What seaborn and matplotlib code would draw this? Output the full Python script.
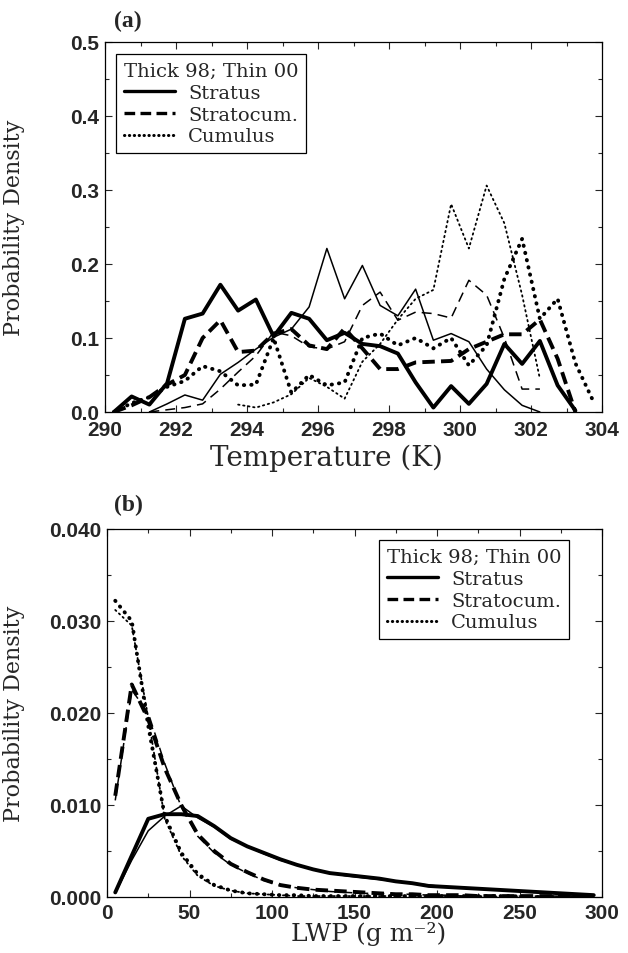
import numpy as np
import pandas as pd
import seaborn as sns
import matplotlib
matplotlib.use("Agg")
import matplotlib.pyplot as plt
from matplotlib.lines import Line2D
from matplotlib.ticker import MultipleLocator, FormatStrFormatter

# ---------------- data: panel (a) temperature PDFs ----------------
temp_stratus_98 = [290.25 + 0.5 * i for i in range(27)]
pdf_stratus_98 = [0.000, 0.021, 0.010, 0.039, 0.126, 0.133, 0.172, 0.137, 0.152, 0.102,
                  0.134, 0.126, 0.097, 0.107, 0.092, 0.089, 0.079, 0.040, 0.006, 0.035,
                  0.011, 0.038, 0.092, 0.065, 0.096, 0.036, 0.002]
temp_stratus_00 = [291.25 + 0.5 * i for i in range(23)]
pdf_stratus_00 = [0.000, 0.011, 0.023, 0.016, 0.051, 0.067, 0.085, 0.101, 0.112, 0.142,
                  0.221, 0.153, 0.198, 0.144, 0.130, 0.166, 0.097, 0.106, 0.095, 0.058,
                  0.030, 0.009, 0.000]
temp_stratocum_98 = [290.25 + 0.5 * i for i in range(27)]
pdf_stratocum_98 = [0.000, 0.009, 0.020, 0.037, 0.050, 0.100, 0.124, 0.081, 0.083, 0.106,
                    0.112, 0.090, 0.085, 0.113, 0.086, 0.058, 0.058, 0.067, 0.068, 0.069,
                    0.085, 0.095, 0.105, 0.105, 0.125, 0.072, 0.000]
temp_stratocum_00 = [291.25 + 0.5 * i for i in range(23)]
pdf_stratocum_00 = [0.000, 0.003, 0.006, 0.011, 0.031, 0.054, 0.076, 0.108, 0.103, 0.088,
                    0.085, 0.095, 0.144, 0.162, 0.124, 0.135, 0.133, 0.127, 0.178, 0.158,
                    0.100, 0.031, 0.031]
temp_cumulus_98 = [290.25 + 0.5 * i for i in range(28)]
pdf_cumulus_98 = [0.000, 0.012, 0.020, 0.034, 0.042, 0.062, 0.055, 0.036, 0.037, 0.100,
                  0.026, 0.050, 0.036, 0.040, 0.100, 0.106, 0.090, 0.100, 0.086, 0.100,
                  0.063, 0.090, 0.180, 0.234, 0.126, 0.153, 0.066, 0.015]
temp_cumulus_00 = [293.75 + 0.5 * i for i in range(18)]
pdf_cumulus_00 = [0.010, 0.006, 0.013, 0.024, 0.046, 0.034, 0.018, 0.068, 0.092, 0.125,
                  0.153, 0.165, 0.281, 0.221, 0.306, 0.255, 0.158, 0.045]

# ---------------- data: panel (b) LWP PDFs ----------------
lwp = [5 + 10 * i for i in range(30)]
lwp_stratus_98 = [0.0005, 0.0045, 0.0085, 0.0090, 0.0090, 0.0088, 0.0077, 0.0064, 0.0055, 0.0048,
                  0.0041, 0.0035, 0.0030, 0.0026, 0.0024, 0.0022, 0.0020, 0.0017, 0.0015, 0.0012,
                  0.0011, 0.0010, 0.0009, 0.0008, 0.0007, 0.0006, 0.0005, 0.0004, 0.0003, 0.0002]
lwp_stratus_00 = [0.0004, 0.0040, 0.0072, 0.0088, 0.0099, 0.0086, 0.0076, 0.0063, 0.0055, 0.0047,
                  0.0040, 0.0035, 0.0030, 0.0026, 0.0023, 0.0021, 0.0019, 0.0017, 0.0015, 0.0013,
                  0.0011, 0.0010, 0.0009, 0.0008, 0.0007, 0.0006, 0.0005, 0.0004, 0.0003, 0.0002]
lwp_stratocum_98 = [0.0110, 0.0231, 0.0193, 0.0140, 0.0100, 0.0068, 0.0050, 0.0036, 0.0027, 0.0019,
                    0.0013, 0.0010, 0.0008, 0.0007, 0.0006, 0.0005, 0.0004, 0.0003, 0.0003, 0.0002,
                    0.0002, 0.0002, 0.0001, 0.0001, 0.0001, 0.0001, 0.0001, 0.0001, 0.0001, 0.0001]
lwp_stratocum_00 = [0.0105, 0.0225, 0.0200, 0.0145, 0.0098, 0.0066, 0.0048, 0.0035, 0.0026, 0.0018,
                    0.0013, 0.0010, 0.0008, 0.0006, 0.0005, 0.0004, 0.0004, 0.0003, 0.0003, 0.0002,
                    0.0002, 0.0001, 0.0001, 0.0001, 0.0001, 0.0001, 0.0001, 0.0001, 0.0001, 0.0001]
lwp_cumulus_98 = [0.0322, 0.0300, 0.0186, 0.0088, 0.0048, 0.0025, 0.0013, 0.0007, 0.0004, 0.0003,
                  0.0002, 0.0002, 0.0001, 0.0001, 0.0001, 0.0001, 0.0001, 0.0001, 0.0001, 0.0001,
                  0.0001, 0.0001, 0.0001, 0.0001, 0.0001, 0.0000, 0.0000, 0.0000, 0.0000, 0.0000]
lwp_cumulus_00 = [0.0312, 0.0295, 0.0195, 0.0085, 0.0045, 0.0023, 0.0012, 0.0007, 0.0004, 0.0003,
                  0.0002, 0.0001, 0.0001, 0.0001, 0.0001, 0.0001, 0.0001, 0.0001, 0.0001, 0.0001,
                  0.0001, 0.0001, 0.0001, 0.0000, 0.0000, 0.0000, 0.0000, 0.0000, 0.0000, 0.0000]

legend_title = "Thick 98; Thin 00"
legend_labels = ["Stratus", "Stratocum.", "Cumulus"]

# ---------------- style ----------------
sns.set_theme(style="ticks")
plt.rcParams.update({
    "font.family": ["DejaVu Serif", "DejaVu Sans"],
    "xtick.direction": "in", "ytick.direction": "in",
    "xtick.top": True, "ytick.right": True,
    "xtick.major.size": 5, "ytick.major.size": 5,
    "xtick.minor.size": 3, "ytick.minor.size": 3,
    "xtick.major.width": 0.8, "ytick.major.width": 0.8,
    "xtick.minor.width": 0.8, "ytick.minor.width": 0.8,
    "axes.linewidth": 0.9,
    "axes.edgecolor": "black",
})

TICK_FONT = dict(family="Liberation Sans", size=15, weight="bold")
LABEL_FONT = ["DejaVu Serif", "DejaVu Sans"]

THICK = 2.8
THIN = 1.1
styles = {
    "solid_thick": dict(linestyle="-", linewidth=THICK),
    "solid_thin": dict(linestyle="-", linewidth=THIN),
    "dash_thick": dict(linestyle=(0, (3.2, 1.6)), linewidth=THICK),
    "dash_thin": dict(linestyle=(0, (6.5, 4.0)), linewidth=THIN),
    "dot_thick": dict(linestyle=(0, (0.1, 1.8)), linewidth=THICK, dash_capstyle="round"),
    "dot_thin": dict(linestyle=(0, (0.8, 2.0)), linewidth=THIN + 0.2, dash_capstyle="round"),
}

fig = plt.figure(figsize=(6.28, 9.54), dpi=100)
axA = fig.add_axes([105 / 628, 1 - 413 / 954, 497 / 628, 370 / 954])
axB = fig.add_axes([107 / 628, 1 - 898 / 954, 495 / 628, 368 / 954])

def draw(ax, x, y, key):
    sns.lineplot(x=x, y=y, ax=ax, color="black", estimator=None, sort=False,
                 legend=False, **styles[key])

# panel a
draw(axA, temp_stratus_98, pdf_stratus_98, "solid_thick")
draw(axA, temp_stratus_00, pdf_stratus_00, "solid_thin")
draw(axA, temp_stratocum_98, pdf_stratocum_98, "dash_thick")
draw(axA, temp_stratocum_00, pdf_stratocum_00, "dash_thin")
draw(axA, temp_cumulus_98, pdf_cumulus_98, "dot_thick")
draw(axA, temp_cumulus_00, pdf_cumulus_00, "dot_thin")

# panel b
draw(axB, lwp, lwp_stratus_98, "solid_thick")
draw(axB, lwp, lwp_stratus_00, "solid_thin")
draw(axB, lwp, lwp_stratocum_98, "dash_thick")
draw(axB, lwp, lwp_stratocum_00, "dash_thin")
draw(axB, lwp, lwp_cumulus_98, "dot_thick")
draw(axB, lwp, lwp_cumulus_00, "dot_thin")

axA.set_xlim(290, 304)
axA.set_ylim(0, 0.5)
axA.xaxis.set_major_locator(MultipleLocator(2))
axA.xaxis.set_minor_locator(MultipleLocator(1))
axA.yaxis.set_major_locator(MultipleLocator(0.1))
axA.yaxis.set_minor_locator(MultipleLocator(0.05))
axA.yaxis.set_major_formatter(FormatStrFormatter("%.1f"))
axA.xaxis.set_major_formatter(FormatStrFormatter("%d"))

axB.set_xlim(0, 300)
axB.set_ylim(0, 0.04)
axB.xaxis.set_major_locator(MultipleLocator(50))
axB.xaxis.set_minor_locator(MultipleLocator(25))
axB.yaxis.set_major_locator(MultipleLocator(0.01))
axB.yaxis.set_minor_locator(MultipleLocator(0.005))
axB.yaxis.set_major_formatter(FormatStrFormatter("%.3f"))
axB.xaxis.set_major_formatter(FormatStrFormatter("%d"))

for ax in (axA, axB):
    ax.tick_params(which="both", direction="in", top=True, right=True)
    ax.tick_params(axis="y", pad=4)
    for lab in ax.get_xticklabels() + ax.get_yticklabels():
        lab.set_fontfamily(TICK_FONT["family"])
        lab.set_fontsize(TICK_FONT["size"])
        lab.set_fontweight(TICK_FONT["weight"])
    for s in ax.spines.values():
        s.set_visible(True)
        s.set_color("black")
axA.tick_params(axis="x", pad=6)
axB.tick_params(axis="x", pad=4)

axA.set_xlabel("Temperature (K)", family=LABEL_FONT, fontsize=20)
axA.set_ylabel("Probability Density", family=LABEL_FONT, fontsize=16)
axA.xaxis.set_label_coords(0.445, -0.085)
axA.yaxis.set_label_coords(-0.16, 0.5)

axB.set_xlabel("LWP (g m\u207b\u00b2)", family=LABEL_FONT, fontsize=18)
axB.set_ylabel("Probability Density", family=LABEL_FONT, fontsize=16)
axB.xaxis.set_label_coords(0.528, -0.066)
axB.yaxis.set_label_coords(-0.165, 0.5)

fig.text(128 / 628, 1 - 21 / 954, "(a)", family="Liberation Serif", weight="bold",
         fontsize=17, ha="center", va="center")
fig.text(128 / 628, 1 - 505 / 954, "(b)", family="Liberation Serif", weight="bold",
         fontsize=17, ha="center", va="center")

handles = [
    Line2D([], [], color="black", linestyle="-", linewidth=2.4),
    Line2D([], [], color="black", linestyle=(0, (3.2, 1.6)), linewidth=2.4),
    Line2D([], [], color="black", linestyle=(0, (0.1, 1.5)), linewidth=2.2,
           dash_capstyle="round"),
]

def add_legend(ax, x_px, y_px):
    leg = ax.legend(handles, legend_labels, title=legend_title,
                    loc="upper left", bbox_to_anchor=(x_px / 628, 1 - y_px / 954),
                    bbox_transform=fig.transFigure, borderaxespad=0,
                    frameon=True, fancybox=False, framealpha=1, edgecolor="black",
                    prop=dict(family=LABEL_FONT, size=14),
                    title_fontproperties=dict(family=LABEL_FONT, size=14),
                    handlelength=2.6, handletextpad=0.7, labelspacing=0.2,
                    borderpad=0.4)
    leg.get_frame().set_linewidth(0.9)
    return leg

add_legend(axA, 116, 55)
add_legend(axB, 379, 541)

fig.savefig("out.png", dpi=100)
